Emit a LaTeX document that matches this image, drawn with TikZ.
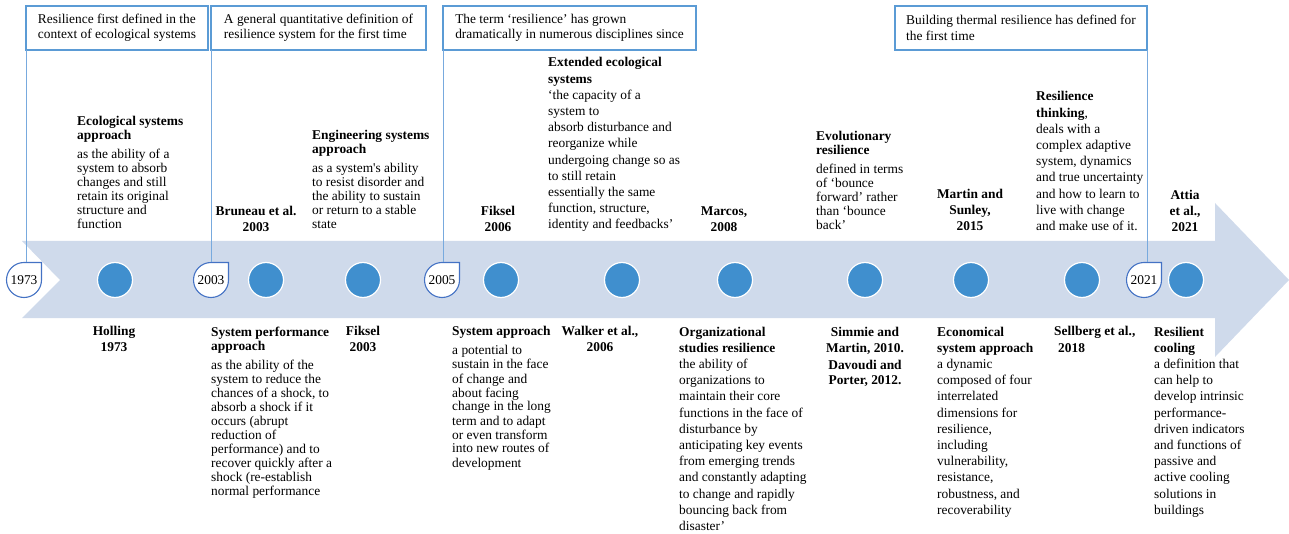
\documentclass[tikz,border=0pt]{standalone}
\usepackage{fontspec}
\setmainfont{Liberation Serif}
\usepackage{tikz}
\usetikzlibrary{calc}
\pgfdeclarelayer{background}
\pgfsetlayers{background,main}

\definecolor{bandblue}{RGB}{207,218,235}
\definecolor{dotblue}{RGB}{64,143,206}
\definecolor{boxblue}{RGB}{91,155,213}
\definecolor{lineblue}{RGB}{120,170,222}
\definecolor{tearblue}{RGB}{68,114,196}

\tikzset{
    topbox/.style={draw=boxblue, line width=1.3pt, anchor=north west, align=left, minimum height=44pt, inner sep=0pt, outer sep=0pt, font=\fontsize{13.4}{15.3}\selectfont},
    note/.style={anchor=north west, inner sep=0pt, align=left, font=\fontsize{13.4}{14}\selectfont},
    notewide/.style={note, font=\fontsize{13.4}{16.2}\selectfont},
    cite/.style={anchor=north, inner sep=0pt, align=center, font=\bfseries\fontsize{13.4}{16}\selectfont},
    dot/.style={circle, fill=dotblue, draw=white, line width=1.2pt, minimum size=35pt, inner sep=0pt},
    year/.style={circle, minimum size=35pt, inner sep=0pt, outer sep=0pt, font=\fontsize{13.4}{14}\selectfont},
    tear/.style={draw=tearblue, fill=white, line width=1.1pt},
    link/.style={draw=lineblue, line width=1pt}
}

\begin{document}
\begin{tikzpicture}[x=1pt, y=1pt]
        % Define Variables
        \def\midY{-280}
        \def\upY{-206.5}
        \def\lowY{-326.5}

        \useasboundingbox (0,0) rectangle (1289,-534);

        % Arrow band
        \begin{pgfonlayer}{background}
        \fill[bandblue] (22,-241) -- (1215,-241) -- (1215,-203) -- (1289,\midY) -- (1215,-357) -- (1215,-318) -- (22,-318) -- (60,\midY) -- cycle;
        \end{pgfonlayer}

        % Years on the band
        \foreach \yr/\xx in {1973/24, 2003/211, 2005/442, 2021/1144} {
            \node[year] (y\yr) at (\xx,\midY) {\yr};
            \begin{pgfonlayer}{background}
            \path[tear] (y\yr.north) -| (y\yr.east) arc[start angle=0, end angle=-270, radius=17.5pt] -- cycle;
            \end{pgfonlayer}
        }

        % Dots
        \foreach \xx [count=\i] in {115, 266, 363, 501, 622, 735, 865, 971, 1082, 1186}
            \node[dot] (d\i) at (\xx,\midY) {};

        % Top boxes
        \node[topbox, minimum width=182pt] (b1973) at (26,-6) {Resilience first defined in the\\context of ecological systems};
        \node[topbox, minimum width=215pt] (b2003) at (211,-6) {A general quantitative definition of\\resilience system for the first time};
        \node[topbox, minimum width=253pt] (b2005) at (443,-6) {The term ‘resilience’ has grown\\dramatically in numerous disciplines since};
        \node[topbox, minimum width=252pt] (b2021) at (895,-6) {Building thermal resilience has defined for\\the first time};
        \draw[link] (b1973.south west) -- (b1973.south west |- y1973.north);
        \draw[link] (b2003.south west) -- (b2003.south west |- y2003.north);
        \draw[link] (b2005.south west) -- (b2005.south west |- y2005.north);
        \draw[link] (b2021.south east) -- (b2021.south east |- y2021.north);

        % Above the band
        \node[note] (eco) at (77,-116.5) {\textbf{Ecological systems}\\\textbf{approach}\\[5pt]as the ability of a\\system to absorb\\changes and still\\retain its original\\structure and\\function};
        \node[cite] (bru) at (256,\upY) {Bruneau et al.\\2003};
        \node[note] (eng) at (312,-130.5) {\textbf{Engineering systems}\\\textbf{approach}\\[5pt]as a system\textquotesingle s ability\\to resist disorder and\\the ability to sustain\\or return to a stable\\state};
        \node[cite] (fik6) at (498,\upY) {Fiksel\\2006};
        \node[notewide] (ext) at (548,-57.5) {\textbf{Extended ecological}\\\textbf{systems}\\‘the capacity of a\\system to\\absorb disturbance and\\reorganize while\\undergoing change so as\\to still retain\\essentially the same\\function, structure,\\identity and feedbacks’};
        \node[cite] (mar) at (724,\upY) {Marcos,\\2008};
        \node[note] (evo) at (816,-131.5) {\textbf{Evolutionary}\\\textbf{resilience}\\[5pt]defined in terms\\of ‘bounce\\forward’ rather\\than ‘bounce\\back’};
        \node[cite] (msun) at (970,-189.5) {Martin and\\Sunley,\\2015};
        \node[notewide] (thk) at (1036,-91.5) {\textbf{Resilience}\\\textbf{thinking},\\deals with a\\complex adaptive\\system, dynamics\\and true uncertainty\\and how to learn to\\live with change\\and make use of it.};
        \node[cite] (att) at (1185,-190.5) {Attia\\et al.,\\2021};

        % Below the band
        \node[cite] (hol) at (114,\lowY) {Holling\\1973};
        \node[note] (sysp) at (211,\lowY) {\textbf{System performance}\\\textbf{approach}\\[5pt]as the ability of the\\system to reduce the\\chances of a shock, to\\absorb a shock if it\\occurs (abrupt\\reduction of\\performance) and to\\recover quickly after a\\shock (re-establish\\normal performance};
        \node[cite] (fik3) at (363,\lowY) {Fiksel\\2003};
        \node[note] (sysa) at (452,\lowY) {\textbf{System approach}\\[5pt]a potential to\\sustain in the face\\of change and\\about facing\\change in the long\\term and to adapt\\or even transform\\into new routes of\\development};
        \node[cite] (wal) at (600,\lowY) {Walker et al.,\\2006};
        \node[notewide] (org) at (679,\lowY) {\textbf{Organizational}\\\textbf{studies resilience}\\the ability of\\organizations to\\maintain their core\\functions in the face of\\disturbance by\\anticipating key events\\from emerging trends\\and constantly adapting\\to change and rapidly\\bouncing back from\\disaster’};
        \node[cite, font=\bfseries\fontsize{13.4}{15.5}\selectfont] (sim) at (865,-327.5) {Simmie and\\Martin, 2010.\\[1.5pt]Davoudi and\\Porter, 2012.};
        \node[notewide] (econ) at (937,\lowY) {\textbf{Economical}\\\textbf{system approach}\\a dynamic\\composed of four\\interrelated\\dimensions for\\resilience,\\including\\vulnerability,\\resistance,\\robustness, and\\recoverability};
        \node[notewide] (sel) at (1054,\lowY) {\textbf{Sellberg et al.,}\\\hspace{4pt}\textbf{2018}};
        \node[notewide] (cool) at (1154,\lowY) {\textbf{Resilient}\\\textbf{cooling}\\a definition that\\can help to\\develop intrinsic\\performance-\\driven indicators\\and functions of\\passive and\\active cooling\\solutions in\\buildings};

    \end{tikzpicture}
\end{document}
